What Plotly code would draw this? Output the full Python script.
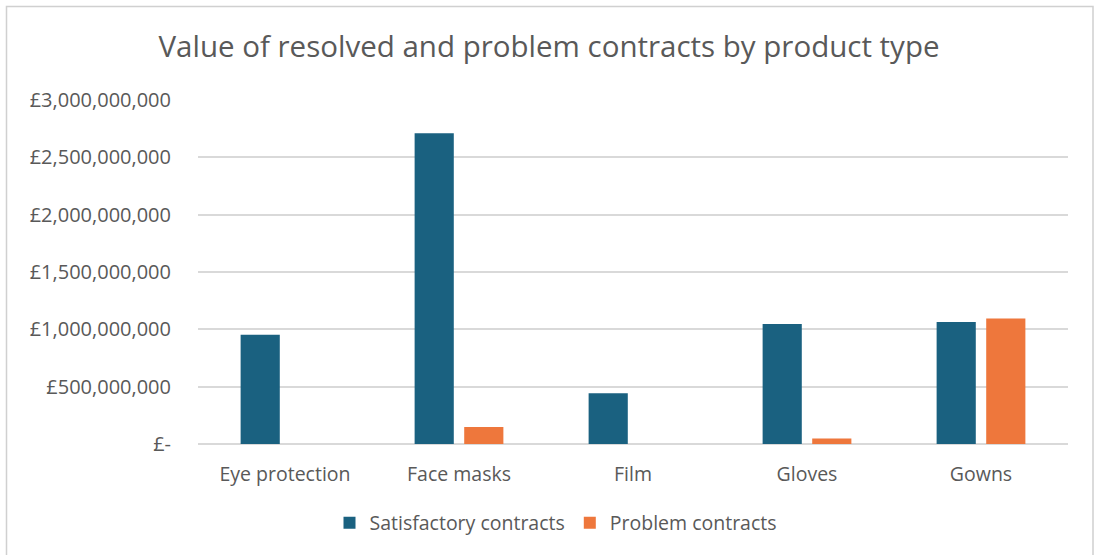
import plotly.graph_objects as go

categories = ["Eye protection", "Face masks", "Film", "Gloves", "Gowns"]
satisfactory = [953_000_000, 2_710_000_000, 442_000_000, 1_047_000_000, 1_065_000_000]
problem = [0, 148_000_000, 0, 48_000_000, 1_095_000_000]
tick_vals = [0, 500_000_000, 1_000_000_000, 1_500_000_000, 2_000_000_000, 2_500_000_000, 3_000_000_000]
tick_text = ["£-", "£500,000,000", "£1,000,000,000", "£1,500,000,000",
             "£2,000,000,000", "£2,500,000,000", "£3,000,000,000"]

W, H = 1094, 555
L, R, T, B = 198, 26, 100, 111
pw, ph = W - L - R, H - T - B

def px(x):
    return (x - L) / pw

def py(y):
    return (H - B - y) / ph

FONT = "Open Sans"
GREY = "#595959"

fig = go.Figure()
fig.add_trace(go.Bar(x=categories, y=satisfactory, name="Satisfactory contracts",
                     marker=dict(color="#1a6180", line=dict(width=0))))
fig.add_trace(go.Bar(x=categories, y=problem, name="Problem contracts",
                     marker=dict(color="#ee773c", line=dict(width=0))))

border = (f"M {px(1093)} {py(600)} L {px(1093)} {py(6.5)} "
          f"L {px(6.5)} {py(6.5)} L {px(6.5)} {py(600)}")

fig.update_layout(
    width=W, height=H,
    margin=dict(l=L, r=R, t=T, b=B, pad=0),
    paper_bgcolor="white", plot_bgcolor="white",
    barmode="group", bargap=0.43, bargroupgap=0.21,
    font=dict(family=FONT, color=GREY, size=16),
    title=dict(text="Value of resolved and problem contracts by product type",
               x=549 / W, xref="container", xanchor="center", y=1 - 47 / H, yanchor="middle",
               font=dict(family=FONT, size=29.5, color=GREY)),
    showlegend=True,
    legend=dict(orientation="h", x=px(556), xanchor="center", y=py(523), yanchor="middle",
                font=dict(family=FONT, size=19.5, color=GREY), itemsizing="constant",
                traceorder="normal", itemwidth=30),
    xaxis=dict(showgrid=False, showline=False, ticks="",
               tickfont=dict(family=FONT, size=19.5, color=GREY),
               ticklabelstandoff=16),
    yaxis=dict(range=[0, 3_000_000_000], tickvals=tick_vals, ticktext=tick_text,
               showgrid=True, gridcolor="#d9d9d9", gridwidth=1.5,
               zeroline=True, zerolinecolor="#d9d9d9", zerolinewidth=1.5,
               showline=False, ticks="", ticklabelstandoff=26,
               tickfont=dict(family=FONT, size=20, color=GREY)),
    shapes=[dict(type="path", xref="paper", yref="paper", path=border,
                 line=dict(color="#d0d0d0", width=1.5), layer="below")],
)

fig.write_html("out.html")
